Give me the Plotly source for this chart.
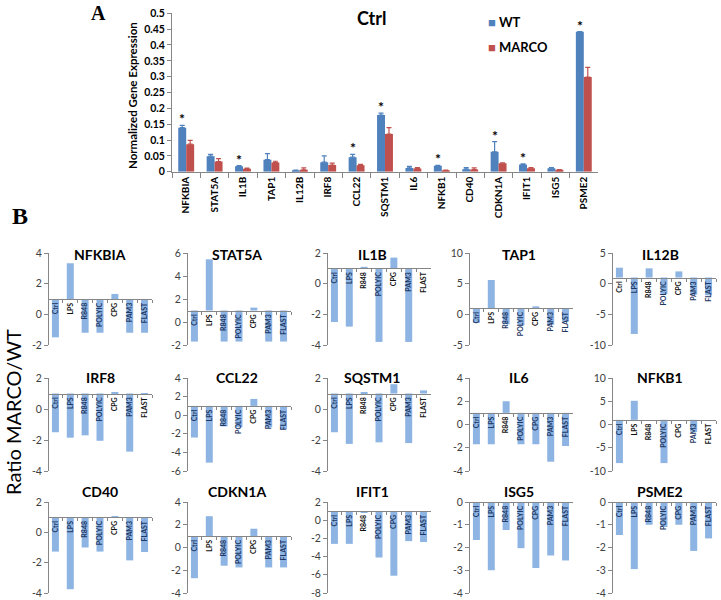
import plotly.graph_objects as go

W, H = 721, 600
FONT = "Lato"
WT_COLOR = "#4F81BD"
MARCO_COLOR = "#C0504D"
B_COLOR = "#8DB4E2"
AXIS_GRAY = "#868686"
NAVY = "#1F3864"

# ---------------- Panel A data ----------------
genes = ["NFKBIA", "STAT5A", "IL1B", "TAP1", "IL12B", "IRF8", "CCL22", "SQSTM1",
         "IL6", "NFKB1", "CD40", "CDKN1A", "IFIT1", "ISG5", "PSME2"]
wt_values = [0.139, 0.049, 0.017, 0.038, 0.004, 0.030, 0.046, 0.179,
             0.012, 0.019, 0.008, 0.063, 0.023, 0.011, 0.442]
wt_err = [0.007, 0.006, 0.002, 0.019, 0.001, 0.020, 0.009, 0.006,
          0.005, 0.001, 0.005, 0.032, 0.002, 0.002, 0.000]
marco_values = [0.087, 0.032, 0.009, 0.029, 0.006, 0.021, 0.020, 0.119,
                0.010, 0.004, 0.007, 0.027, 0.011, 0.006, 0.299]
marco_err = [0.012, 0.009, 0.002, 0.004, 0.006, 0.006, 0.003, 0.020,
             0.003, 0.001, 0.005, 0.001, 0.002, 0.001, 0.030]
significant = [True, False, True, False, False, False, True, True,
               False, True, False, True, True, False, True]
a_ticks = [0, 0.05, 0.1, 0.15, 0.2, 0.25, 0.3, 0.35, 0.4, 0.45, 0.5]

# ---------------- Panel B data (ratio MARCO/WT) ----------------
stimuli = ["Ctrl", "LPS", "R848", "POLYIC", "CPG", "PAM3", "FLAST"]
nfkbia_ratio = [-1.5, 3.33, -1.2, -1.2, 1.33, -1.2, -1.2]
stat5a_ratio = [-1.7, 5.45, -1.7, -1.7, 1.25, -1.7, -1.7]
il1b_ratio = [-2.5, -2.8, 1.1, -3.8, 1.7, -3.8, 0.98]
tap1_ratio = [-1.4, 5.6, -1.6, -1.8, 1.3, -1.7, -1.2]
il12b_ratio = [2.6, -8.2, 2.5, -1.7, 2.0, -1.8, -1.9]
irf8_ratio = [-1.5, -1.85, -1.7, -2.05, 1.1, -2.75, 0.98]
ccl22_ratio = [-2.4, -5.1, -1.2, -1.3, 1.75, -1.3, -1.5]
sqstm1_ratio = [-1.5, -2.25, 1.05, -2.15, 1.6, -2.2, 1.2]
il6_ratio = [-1.7, -1.7, 2.0, -1.7, -1.7, -3.2, -1.85]
nfkb1_ratio = [-8.3, 5.1, 1.0, -8.3, 1.0, -1.6, 1.0]
cd40_ratio = [-1.27, -3.75, -1.0, -1.27, 1.08, -1.85, -1.3]
cdkn1a_ratio = [-2.7, 2.75, -1.6, -1.75, 1.65, -1.75, -1.75]
ifit1_ratio = [-2.6, -2.6, 0.9, -4.1, -6.1, -2.3, -2.4]
isg5_ratio = [-1.67, -3.0, -1.23, -2.03, -2.9, -2.35, -2.57]
psme2_ratio = [-1.45, -2.95, -1.0, -1.1, -1.0, -2.15, -1.6]
ratio_series = [nfkbia_ratio, stat5a_ratio, il1b_ratio, tap1_ratio, il12b_ratio,
                irf8_ratio, ccl22_ratio, sqstm1_ratio, il6_ratio, nfkb1_ratio,
                cd40_ratio, cdkn1a_ratio, ifit1_ratio, isg5_ratio, psme2_ratio]
axis_min = [-2, -2, -4, -5, -10, -4, -6, -4, -4, -10, -4, -4, -8, -4, -4]
axis_max = [4, 6, 2, 10, 5, 2, 4, 2, 4, 10, 2, 4, 2, 0, 0]
axis_step = [2, 2, 2, 5, 5, 2, 2, 2, 2, 5, 2, 2, 2, 1, 1]
axis_crossing = 1.0

# ---------------- layout geometry (pixels) ----------------
col_left = [48, 187, 327, 469, 612]
panel_w = 104
title_dx = [0, -2, -7, -2, -4]
row_top = [253, 378, 502]
row_bottom = [345, 471, 593]
title_y = [254, 377, 492]


def fx(p):
    return p / W


def fy(p):
    return 1 - p / H


fig = go.Figure()

# Panel A bars
for name, vals, errs, color in [("WT", wt_values, wt_err, WT_COLOR),
                                ("MARCO", marco_values, marco_err, MARCO_COLOR)]:
    fig.add_trace(go.Bar(
        x=genes, y=vals, name=name,
        marker=dict(color=color, line=dict(width=0)),
        error_y=dict(type="data", symmetric=False, array=errs,
                     arrayminus=[0] * len(errs), color=color,
                     thickness=1.2, width=2.5),
        xaxis="x", yaxis="y", showlegend=False, hoverinfo="skip"))

annotations = []
for g, v, e, s in zip(genes, wt_values, wt_err, significant):
    if s:
        annotations.append(dict(x=g, y=v + e, xref="x", yref="y", text="*",
                                showarrow=False, xanchor="center", yanchor="bottom",
                                xshift=-4, yshift=-4,
                                font=dict(size=14, family=FONT, weight="bold", color="black")))


def paper_text(px, py, text, size, family=FONT, weight="normal", angle=0, xanchor="center"):
    return dict(x=fx(px), y=fy(py), xref="paper", yref="paper", text=text,
                textangle=angle, showarrow=False, xanchor=xanchor, yanchor="middle",
                font=dict(size=size, family=family, weight=weight, color="black"))


layout = dict(
    width=W, height=H, margin=dict(l=0, r=0, t=0, b=0, autoexpand=False),
    paper_bgcolor="white", plot_bgcolor="white",
    showlegend=False, barmode="group", bargap=0.44, bargroupgap=0,
    font=dict(family=FONT, color="black"),
    xaxis=dict(domain=[fx(172), fx(598)], anchor="y", type="category", automargin=False,
               tickangle=-90, tickfont=dict(size=10, family=FONT, weight="bold", color="black"),
               ticks="outside", tickson="boundaries", ticklen=5, tickcolor=AXIS_GRAY,
               showline=True, linecolor=AXIS_GRAY, showgrid=False, zeroline=False),
    yaxis=dict(domain=[fy(171.7), fy(13.3)], anchor="x", range=[0, 0.5], automargin=False,
               tickmode="array", tickvals=a_ticks, ticktext=[f"{t:g}" for t in a_ticks],
               tickfont=dict(size=10.5, family=FONT, weight="bold", color="black"),
               ticks="outside", ticklen=4, tickcolor=AXIS_GRAY,
               showline=True, linecolor=AXIS_GRAY, showgrid=False, zeroline=False),
)

# Panel A / B texts
annotations += [
    paper_text(132, 96, "Normalized Gene Expression", 11.5, weight="bold", angle=-90),
    paper_text(372, 18, "Ctrl", 18, weight="bold"),
    paper_text(98, 13, "A", 20, family="Liberation Serif", weight="bold"),
    paper_text(20, 216, "B", 24, family="Liberation Serif", weight="bold"),
    paper_text(13, 412, "Ratio MARCO/WT", 20, angle=-90),
]
# custom legend
for i, (name, color) in enumerate([("WT", WT_COLOR), ("MARCO", MARCO_COLOR)]):
    annotations.append(paper_text(486, 22 + 25 * i,
                                  f"<span style='color:{color}'>■</span> {name}",
                                  13, weight="bold", xanchor="left"))

# Panel B small multiples
for k, gene in enumerate(genes):
    r, c = divmod(k, 5)
    n = k + 2
    x0, x1 = fx(col_left[c]), fx(col_left[c] + panel_w)
    y0, y1 = fy(row_bottom[r]), fy(row_top[r])
    lo, hi, step = axis_min[k], axis_max[k], axis_step[k]
    base = min(axis_crossing, hi)
    pos = y0 + (base - lo) / (hi - lo) * (y1 - y0)
    vals = ratio_series[k]
    fig.add_trace(go.Bar(
        x=stimuli, y=[v - base for v in vals], base=base, width=0.47,
        marker=dict(color=B_COLOR, line=dict(width=0)),
        xaxis=f"x{n}", yaxis=f"y{n}", showlegend=False, hoverinfo="skip"))
    ticktext = [f"<span style='color:{NAVY if v < base - 0.3 else '#111111'}'>{s}</span>"
                for s, v in zip(stimuli, vals)]
    yt = list(range(lo, hi + 1, step))
    layout[f"xaxis{n}"] = dict(
        domain=[x0, x1], anchor="free", position=pos, type="category", automargin=False,
        categoryorder="array", categoryarray=stimuli, range=[-0.5, 6.5],
        tickmode="array", tickvals=stimuli, ticktext=ticktext, tickson="boundaries",
        tickangle=-90, tickfont=dict(size=7, family=FONT, weight="bold"),
        ticks="outside", ticklen=3, tickcolor=AXIS_GRAY,
        showline=True, linecolor=AXIS_GRAY, showgrid=False, zeroline=False)
    layout[f"yaxis{n}"] = dict(
        domain=[y0, y1], anchor="free", position=x0, range=[lo, hi], automargin=False,
        tickmode="array", tickvals=yt, ticktext=[str(t) for t in yt],
        tickfont=dict(size=10.5, family=FONT, color="#404040"),
        ticks="outside", ticklen=4, tickcolor=AXIS_GRAY,
        showline=True, linecolor=AXIS_GRAY, showgrid=False, zeroline=False)
    annotations.append(paper_text(col_left[c] + panel_w / 2 + title_dx[c], title_y[r],
                                  gene, 14, weight="bold"))

layout["annotations"] = annotations
fig.update_layout(**layout)
fig.write_html("out.html", config={"displayModeBar": False},
               post_script="document.body.style.margin='0px';document.body.style.overflow='hidden';")
